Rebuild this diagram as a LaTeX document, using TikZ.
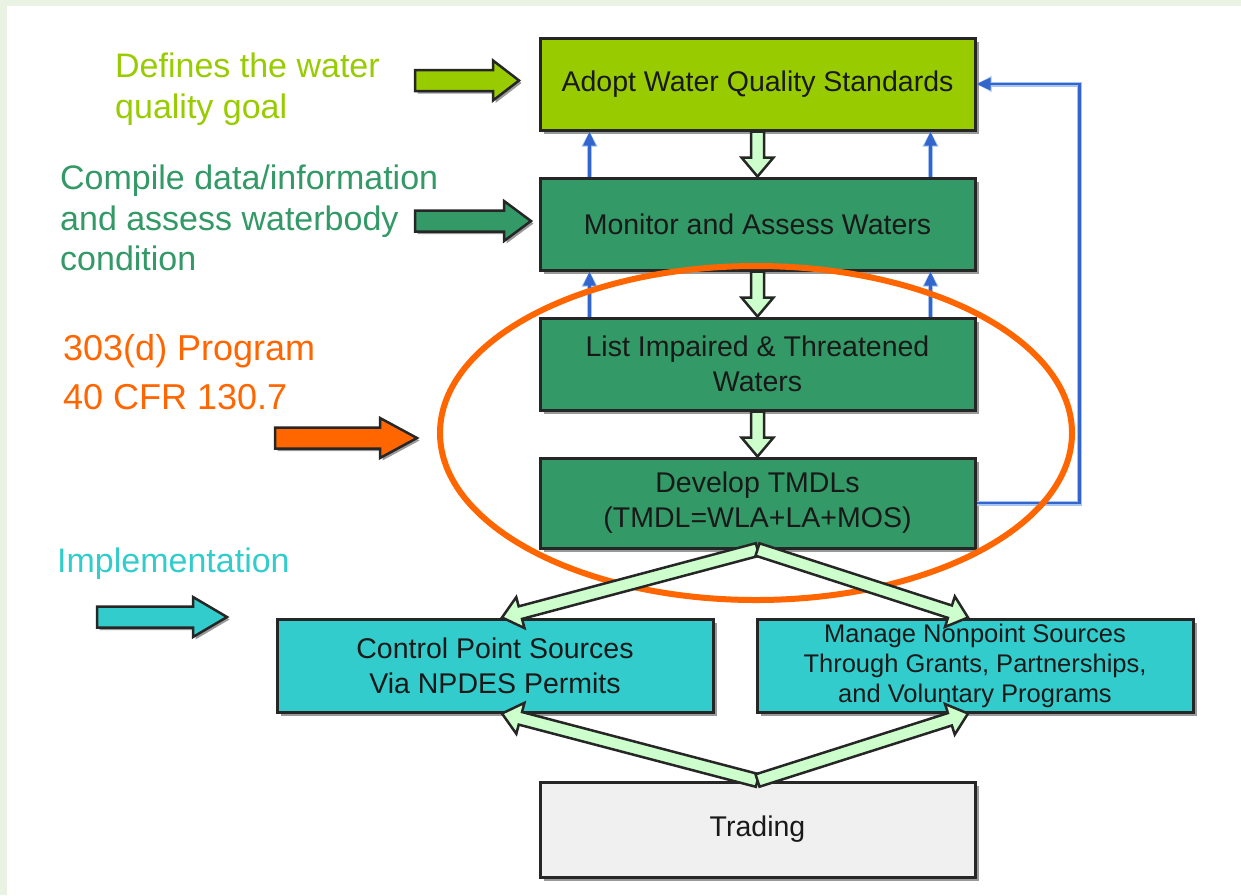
\documentclass[tikz,border=0pt]{standalone}
\usepackage{fontspec}
\setmainfont{Liberation Sans}
\usetikzlibrary{arrows.meta,shadows,calc}
\definecolor{ygreen}{HTML}{99CC00}
\definecolor{sgreen}{HTML}{339966}
\definecolor{orng}{HTML}{FF6600}
\definecolor{cyn}{HTML}{33CCCC}
\definecolor{trad}{HTML}{F0F0F0}
\definecolor{pale}{HTML}{CCFFCC}
\definecolor{fb}{HTML}{3366CC}
\definecolor{fbl}{HTML}{A8C4F0}
\definecolor{bgedge}{HTML}{E9F2E3}
\def\bw{6.5pt}
\def\bh{16pt}
\def\bl{19pt}
\tikzset{
  procbox/.style={draw=black!85, line width=3pt, minimum width=435pt, minimum height=92pt,
    align=center, inner sep=0pt, text=black!90, font=\fontsize{28.5}{35}\selectfont,
    general shadow={fill=black!40, shadow xshift=4pt, shadow yshift=-4pt}},
  lbl/.style={anchor=north west, inner sep=0pt, align=left, font=\fontsize{34}{40.5}\selectfont},
  sidearrowstyle/.style={draw=black!85, line width=2.5pt, line join=miter,
    general shadow={fill=black!40, shadow xshift=2.5pt, shadow yshift=-2.5pt}},
  blockarrowstyle/.style={draw=black!85, fill=pale, line width=2.5pt, line join=miter},
  fbarrow/.style={draw=fb, line width=2.5pt, -{Triangle[length=14pt,width=12pt]},
    preaction={draw=fbl, line width=5pt, -{Triangle[length=15pt,width=15pt]}}}
}
\newcommand{\blockarrow}[2]{%
  \draw[blockarrowstyle] let \p1=(#1), \p2=(#2), \n1={veclen(\x2-\x1,\y2-\y1)},
    \n2={(\x2-\x1)/\n1}, \n3={(\y2-\y1)/\n1} in
    ({\x1-\bw*\n3},{\y1+\bw*\n2}) -- ({\x2-\bl*\n2-\bw*\n3},{\y2-\bl*\n3+\bw*\n2})
    -- ({\x2-\bl*\n2-\bh*\n3},{\y2-\bl*\n3+\bh*\n2}) -- (\p2)
    -- ({\x2-\bl*\n2+\bh*\n3},{\y2-\bl*\n3-\bh*\n2}) -- ({\x2-\bl*\n2+\bw*\n3},{\y2-\bl*\n3-\bw*\n2})
    -- ({\x1+\bw*\n3},{\y1-\bw*\n2}) -- cycle;}
% #1 left x, #2 head start x, #3 tip x, #4 centre y, #5 colour
\newcommand{\sidearrow}[5]{%
  \draw[sidearrowstyle, fill=#5] (#1,#4-10.5) -- (#2,#4-10.5) -- (#2,#4-20) -- (#3,#4)
    -- (#2,#4+20) -- (#2,#4+10.5) -- (#1,#4+10.5) -- cycle;}
\begin{document}
\begin{tikzpicture}[x=1pt,y=-1pt]
\useasboundingbox (0,0) rectangle (1241,895);
\fill[bgedge] (0,0) rectangle (1241,895);
\fill[white] (7,6) rectangle (1241,895);

% left labels
\node[lbl, text=ygreen] (goal) at (115,53) {Defines the water\\quality goal};
\node[lbl, text=sgreen] (compile) at (60,165) {Compile data/information\\and assess waterbody\\condition};
\node[lbl, text=orng, font=\fontsize{36}{49}\selectfont] (prog) at (63,334) {303(d) Program\\40 CFR 130.7};
\node[lbl, text=cyn] (impl) at (57,548) {Implementation};

% left block arrows
\sidearrow{415}{493}{519}{80.5}{ygreen}
\sidearrow{415}{504}{531}{221}{sgreen}
\sidearrow{275}{380}{417}{438}{orng}
\sidearrow{97}{193}{227}{617}{cyn}

% boxes
\node[procbox, fill=ygreen] (adopt) at (757.5,84) {Adopt Water Quality Standards};
\node[procbox, fill=sgreen] (monitor) at (757.5,224) {Monitor and Assess Waters};
\node[procbox, fill=sgreen] (list) at (757.5,364) {List Impaired \& Threatened\\Waters};
\node[procbox, fill=sgreen, minimum height=90pt] (develop) at (757.5,503) {Develop TMDLs\\(TMDL=WLA+LA+MOS)};
\node[procbox, fill=cyn, minimum width=436pt, minimum height=93pt] (control) at (495,665.5) {Control Point Sources\\Via NPDES Permits};
\node[procbox, fill=cyn, minimum width=436pt, minimum height=93pt, font=\fontsize{25.5}{30}\selectfont] (manage) at (975,665.5) {Manage Nonpoint Sources\\Through Grants, Partnerships,\\and Voluntary Programs};
\node[procbox, fill=trad, minimum height=95pt] (trading) at (757.5,829.5) {Trading};

% blue feedback arrows
\draw[fbarrow] ([xshift=51pt]monitor.north west) -- ([xshift=51pt]adopt.south west);
\draw[fbarrow] ([xshift=-46pt]monitor.north east) -- ([xshift=-46pt]adopt.south east);
\draw[fbarrow] ([xshift=51pt]list.north west) -- ([xshift=51pt]monitor.south west);
\draw[fbarrow] ([xshift=-46pt]list.north east) -- ([xshift=-46pt]monitor.south east);
\draw[fbarrow] (develop.east) -- ++(103,0) |- (adopt.east);

% vertical block arrows
\blockarrow{adopt.south}{monitor.north}
\blockarrow{monitor.south}{list.north}
\blockarrow{list.south}{develop.north}

% orange ellipse
\draw[orng, line width=6pt] (756,433) ellipse [x radius=316pt, y radius=167pt];

% diagonal block arrows
\blockarrow{develop.south}{[xshift=7pt]control.north}
\blockarrow{develop.south}{[xshift=-7pt]manage.north}
\blockarrow{trading.north}{[xshift=7pt]control.south}
\blockarrow{trading.north}{[xshift=-7pt]manage.south}
\end{tikzpicture}
\end{document}
